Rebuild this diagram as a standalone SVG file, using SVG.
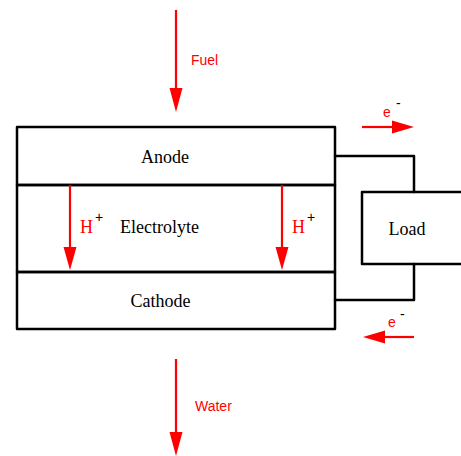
<svg xmlns="http://www.w3.org/2000/svg" width="461" height="456" viewBox="0 0 461 456">
<defs>
<style>
.blk{fill:none;stroke:#000;stroke-width:2.5;stroke-linecap:round;stroke-linejoin:round}
.red{fill:none;stroke:#ff0000;stroke-width:2.2}
.head{fill:#ff0000;stroke:none}
.ser{font-family:"Liberation Serif","Times New Roman",serif;font-size:18px;fill:#000}
.sans{font-family:"Liberation Sans",Arial,sans-serif;font-size:14px;fill:#ff0000}
.h{font-family:"Liberation Serif","Times New Roman",serif;font-size:18px;fill:#ff0000}
.sup{font-family:"Liberation Sans",Arial,sans-serif;font-size:14px;fill:#000}
</style>
</defs>
<rect width="461" height="456" fill="#fff"/>
<g id="anode">
<rect class="blk" x="17" y="127" width="318" height="58"/>
<text class="ser" x="165" y="163" text-anchor="middle">Anode</text>
</g>
<g id="electrolyte">
<rect class="blk" x="17" y="185" width="318" height="87"/>
<text class="ser" x="120" y="233">Electrolyte</text>
</g>
<g id="cathode">
<rect class="blk" x="17" y="272" width="318" height="57"/>
<text class="ser" x="160.5" y="307" text-anchor="middle">Cathode</text>
</g>
<g id="load">
<rect class="blk" x="362" y="192" width="110" height="72"/>
<text class="ser" x="407" y="235" text-anchor="middle">Load</text>
</g>
<g id="connectors">
<polyline class="blk" points="335,156 414,156 414,192"/>
<polyline class="blk" points="414,264 414,300 335,300"/>
<line class="red" x1="176" y1="10" x2="176" y2="90"/>
<polygon class="head" points="169.5,88 182.5,88 176,112"/>
<line class="red" x1="176" y1="359" x2="176" y2="434"/>
<polygon class="head" points="169.5,432 182.5,432 176,456"/>
<line class="red" x1="70" y1="185" x2="70" y2="249"/>
<polygon class="head" points="63.5,247 76.5,247 70,270"/>
<line class="red" x1="282" y1="185" x2="282" y2="249"/>
<polygon class="head" points="275.5,247 288.5,247 282,270"/>
<line class="red" x1="362" y1="127" x2="394" y2="127"/>
<polygon class="head" points="392,120.5 392,133.5 414,127"/>
<line class="red" x1="414" y1="337" x2="382" y2="337"/>
<polygon class="head" points="385,330.5 385,343.5 363,337"/>
</g>
<g id="labels">
<text class="sans" x="191" y="65">Fuel</text>
<text class="sans" x="195" y="411">Water</text>
<text class="h" x="80" y="233">H</text>
<text class="sup" x="95" y="222">+</text>
<text class="h" x="292" y="233">H</text>
<text class="sup" x="307" y="222">+</text>
<text class="sans" x="383" y="117" font-size="16">e</text>
<text class="sup" x="396" y="108">-</text>
<text class="sans" x="388" y="327" font-size="16">e</text>
<text class="sup" x="400" y="319">-</text>
</g>
</svg>
